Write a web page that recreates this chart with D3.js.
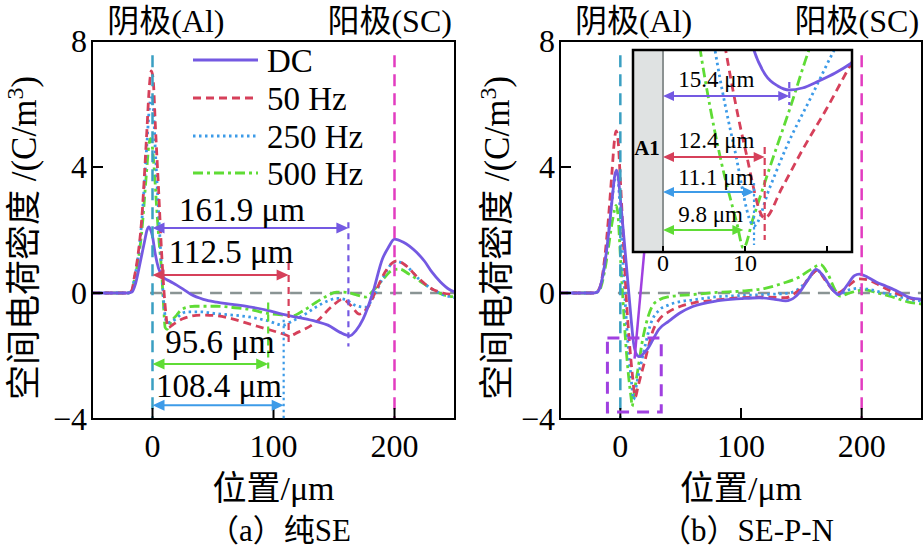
<!DOCTYPE html>
<html><head><meta charset="utf-8">
<script src="https://cdn.jsdelivr.net/npm/d3@7"></script>
<style>
body{margin:0;background:#fff}
svg{display:block}
text{font-family:'Liberation Serif','Noto Sans CJK SC',serif;fill:#000}
</style>
</head><body>
<svg id="c" width="924" height="550"></svg>
<script>
// ---------- data ----------
const xTicks = [0, 100, 200];
const yTicks = [-4, 0, 4, 8];
const yTickLabels = ["\u22124", "0", "4", "8"];
const seriesNames = ["DC", "50 Hz", "250 Hz", "500 Hz"];

// (a) pure SE
const a_DC = [[-50,0],[-20,0],[-17,0.03],[-14,0.3],[-10,1.0],[-6.5,1.65],[-4.5,2.0],[-3,2.1],[-1.5,2.0],[0,1.8],[2,1.3],[5,0.78],[9,0.5],[14,0.38],[20,0.25],[25,0.13],[32,-0.05],[42,-0.2],[53,-0.29],[66,-0.36],[80,-0.44],[95,-0.55],[108,-0.68],[121,-0.78],[135,-0.9],[145,-1.02],[155,-1.25],[163,-1.36],[168,-1.2],[174,-0.83],[182,0],[190,1.08],[195,1.45],[200,1.71],[207,1.62],[218,1.3],[225,1.0],[231,0.66],[238,0.35],[245,0.12],[250,0.03]];
const a_50 = [[-50,0],[-20,0],[-17,0.1],[-15,0.5],[-12,1.2],[-9,2.3],[-5,4.9],[-2.5,6.6],[-1,7.05],[0.5,6.8],[2.5,5.2],[5,3.3],[7.5,1.3],[10,-0.2],[13,-1.1],[17,-1.0],[25,-0.82],[40,-0.7],[53,-0.72],[66,-0.82],[80,-0.98],[95,-1.15],[108,-1.3],[113,-1.36],[120,-1.25],[135,-0.93],[149,-0.4],[157,-0.2],[164,-0.4],[171,-0.67],[178,-0.45],[185,0.1],[192,0.65],[198,0.95],[202,1.02],[210,0.85],[218,0.54],[230,0.15],[240,0.0],[250,-0.05]];
const a_250 = [[-50,0],[-20,0],[-17,0.08],[-15,0.45],[-12,1.1],[-9,2.2],[-5,4.5],[-2.5,5.9],[-1.2,6.2],[0.5,5.9],[2.5,4.4],[5,2.6],[7.5,0.8],[10,-0.6],[12,-0.95],[16,-0.9],[28,-0.6],[40,-0.6],[53,-0.66],[66,-0.7],[80,-0.76],[95,-0.88],[108,-1.02],[115,-0.9],[125,-0.7],[135,-0.45],[145,-0.25],[152,-0.17],[160,-0.22],[168,-0.4],[176,-0.45],[183,-0.1],[190,0.45],[197,0.9],[202,1.0],[210,0.85],[220,0.45],[230,0.15],[240,-0.05],[250,-0.15]];
const a_500 = [[-50,0],[-20,0],[-17,0.05],[-15,0.4],[-12,1.0],[-9,1.9],[-5,3.8],[-3,4.7],[-1.8,4.9],[0,4.6],[2,3.6],[3.3,2.8],[5.5,1.6],[7.5,0.7],[9,-0.3],[10.5,-1.1],[12,-1.15],[14,-1.0],[20,-0.7],[25,-0.5],[35,-0.42],[53,-0.42],[66,-0.46],[80,-0.52],[97,-0.66],[108,-0.7],[116,-0.72],[125,-0.55],[135,-0.3],[145,-0.08],[152,0.03],[160,0.02],[168,-0.05],[176,-0.13],[183,0.1],[192,0.5],[198,0.72],[204,0.76],[212,0.6],[222,0.35],[232,0.1],[242,-0.08],[250,-0.12]];

// (b) SE-P-N
const b_DC = [[-50,0],[-22,0],[-19,0.03],[-16,0.3],[-13,0.9],[-10,1.8],[-7,2.9],[-4.5,3.75],[-3,3.9],[-1.5,3.6],[0,3.0],[3,1.75],[6,0.45],[9,-0.85],[11,-1.6],[12.5,-1.87],[14,-1.98],[15.4,-2.02],[17,-2.0],[19,-1.93],[21,-1.85],[23,-1.75],[26,-1.55],[32,-1.15],[40,-0.9],[50,-0.62],[60,-0.43],[80,-0.25],[100,-0.18],[115,-0.15],[128,-0.2],[137,-0.25],[145,-0.12],[150,0.1],[156,0.45],[162,0.75],[168,0.55],[175,0.15],[181,-0.05],[188,0.25],[194,0.55],[198,0.6],[205,0.5],[212,0.35],[220,0.22],[230,0.05],[240,-0.15],[250,-0.2]];
const b_50 = [[-50,0],[-22,0],[-19,0.05],[-16,0.3],[-13,1.1],[-10,2.3],[-7,3.8],[-5,4.8],[-3.5,5.15],[-2,4.9],[0,3.6],[2.5,1.7],[5,-0.2],[7.6,-1.6],[10,-2.6],[12.4,-3.3],[14.5,-3.0],[17,-2.62],[20,-2.2],[23,-1.75],[27,-1.2],[32,-0.85],[40,-0.6],[50,-0.42],[60,-0.32],[80,-0.22],[100,-0.15],[120,-0.13],[137,-0.15],[145,0.0],[152,0.25],[158,0.55],[163,0.72],[170,0.4],[176,0.1],[180,0.0],[188,0.2],[198,0.45],[205,0.42],[212,0.3],[222,0.1],[235,-0.1],[245,-0.2],[250,-0.2]];
const b_250 = [[-50,0],[-22,0],[-19,0.04],[-16,0.25],[-13,0.9],[-10,1.8],[-7,2.9],[-5,3.55],[-3.2,3.87],[-1.8,3.6],[0,2.5],[3,0.4],[6.3,-1.6],[8.7,-2.6],[11.1,-3.38],[13,-3.0],[15,-2.6],[18,-2.1],[21,-1.6],[25,-1.0],[32,-0.55],[40,-0.38],[50,-0.27],[60,-0.22],[80,-0.12],[100,-0.08],[120,-0.05],[140,0.0],[150,0.2],[157,0.5],[163,0.72],[170,0.42],[176,0.1],[181,-0.05],[188,0.08],[198,0.15],[208,0.1],[218,0.0],[230,-0.1],[240,-0.22],[250,-0.25]];
const b_500 = [[-50,0],[-22,0],[-19,0.03],[-16,0.2],[-13,0.7],[-10,1.4],[-7,2.2],[-5,2.6],[-3.5,2.78],[-2,2.5],[0,1.2],[2,-0.1],[4.5,-1.6],[7,-2.7],[9,-3.35],[9.8,-3.6],[11,-3.3],[13,-2.8],[15.5,-2.2],[17.9,-1.6],[20,-1.2],[23,-0.75],[26,-0.45],[32,-0.22],[40,-0.12],[60,-0.05],[80,0.02],[100,0.06],[120,0.15],[134,0.3],[148,0.5],[158,0.75],[166,0.9],[172,0.6],[178,0.1],[182,-0.1],[190,0.0],[203,0.1],[213,0.0],[225,-0.12],[238,-0.28],[250,-0.35]];

// annotation values
const aSpans = [161.9, 112.5, 95.6, 108.4];          // DC, 50 Hz, 500 Hz, 250 Hz
const aSpanLabels = ["161.9 \u03bcm", "112.5 \u03bcm", "95.6 \u03bcm", "108.4 \u03bcm"];
const bSpans = [15.4, 12.4, 11.1, 9.8];               // DC, 50 Hz, 250 Hz, 500 Hz
const bSpanLabels = ["15.4 \u03bcm", "12.4 \u03bcm", "11.1 \u03bcm", "9.8 \u03bcm"];
const insetTicks = [0, 10, 20];
const insetTickLabels = ["0", "10", ""];
const cathodePos = 0, anodePos = 200;

// ---------- styles ----------
const colors = ["#7459e2", "#d6405a", "#3d9be8", "#5fdc35"];
const dashes = [null, "8,5", "2.5,3.5", "10,4,3,4"];
const widths = [2.8, 2.8, 2.8, 2.8];
const FONT = 32;

const svg = d3.select("#c");
const defs = svg.append("defs");

const y = d3.scaleLinear().domain([-4, 8]).range([419, 41]);
const xA = d3.scaleLinear().domain([-50, 250]).range([92, 455]);
const xB = d3.scaleLinear().domain([-50, 250]).range([560, 922]);

function clip(id, x, yy, w, h) {
  defs.append("clipPath").attr("id", id).append("rect").attr("x", x).attr("y", yy).attr("width", w).attr("height", h);
}
clip("clipA", 92, 41, 363, 378);
clip("clipB", 560, 41, 362, 378);

const lineGen = (xs, ys) => d3.line().x(d => xs(d[0])).y(d => ys(d[1])).curve(d3.curveMonotoneX);

function vline(g, xs, ys, xv, y1, y2, color, dash, w) {
  g.append("line").attr("x1", xs(xv)).attr("x2", xs(xv)).attr("y1", ys(y1)).attr("y2", ys(y2))
    .attr("stroke", color).attr("stroke-width", w).attr("stroke-dasharray", dash);
}

function arrow(g, x1, x2, yy, color, hl, hw, sw) {
  g.append("line").attr("x1", x1 + hl * 0.8).attr("x2", x2 - hl * 0.8).attr("y1", yy).attr("y2", yy)
    .attr("stroke", color).attr("stroke-width", sw);
  g.append("path").attr("d", `M${x1},${yy}L${x1 + hl},${yy - hw}L${x1 + hl},${yy + hw}Z`).attr("fill", color);
  g.append("path").attr("d", `M${x2},${yy}L${x2 - hl},${yy - hw}L${x2 - hl},${yy + hw}Z`).attr("fill", color);
}

function drawPanel(xs, series, clipId, sub, labelX) {
  const g = svg.append("g");
  const [x0, x1] = xs.range();
  const [yb, yt] = y.range();
  // zero line
  g.append("line").attr("x1", xs(-2)).attr("x2", xs(250)).attr("y1", y(0)).attr("y2", y(0))
    .attr("stroke", "#8a9494").attr("stroke-width", 2.5).attr("stroke-dasharray", "12,8");
  // curves
  const cg = g.append("g").attr("clip-path", `url(#${clipId})`);
  [3, 2, 1, 0].forEach(i => {
    cg.append("path").attr("d", lineGen(xs, y)(series[i])).attr("fill", "none")
      .attr("stroke", colors[i]).attr("stroke-width", widths[i])
      .attr("stroke-dasharray", dashes[i]).attr("stroke-linejoin", "round");
  });
  // electrode lines
  vline(g, xs, y, cathodePos, 7.55, -4, "#3a9fc2", "12,7", 2.5);
  vline(g, xs, y, anodePos, 7.55, -4, "#e23cc0", "12,7", 2.5);
  // frame
  g.append("rect").attr("x", x0).attr("y", yt).attr("width", x1 - x0).attr("height", yb - yt)
    .attr("fill", "none").attr("stroke", "#000").attr("stroke-width", 2);
  // ticks
  yTicks.forEach((t, i) => {
    g.append("line").attr("x1", x0).attr("x2", x0 + 11).attr("y1", y(t)).attr("y2", y(t)).attr("stroke", "#000").attr("stroke-width", 2);
    g.append("text").attr("x", x0 - 5).attr("y", y(t)).attr("dy", "0.35em").attr("text-anchor", "end")
      .attr("font-size", FONT).text(yTickLabels[i]);
  });
  xTicks.forEach(t => {
    g.append("line").attr("x1", xs(t)).attr("x2", xs(t)).attr("y1", yb).attr("y2", yb - 11).attr("stroke", "#000").attr("stroke-width", 2);
    g.append("text").attr("x", xs(t)).attr("y", 457).attr("text-anchor", "middle").attr("font-size", FONT).text(t);
  });
  // electrode titles
  g.append("text").attr("x", xs(11)).attr("y", 32).attr("text-anchor", "middle").attr("font-size", 32).text("阴极(Al)");
  g.append("text").attr("x", xs(196)).attr("y", 32).attr("text-anchor", "middle").attr("font-size", 32).text("阳极(SC)");
  // axis labels
  g.append("text").attr("x", xs(100)).attr("y", 500).attr("text-anchor", "middle").attr("font-size", 34).text("位置/\u03bcm");
  g.append("text").attr("x", xs(105)).attr("y", 541).attr("text-anchor", "middle").attr("font-size", 31).text(sub);
  const yl = g.append("text").attr("transform", `translate(${labelX},238) rotate(-90)`)
    .attr("text-anchor", "middle").attr("dy", "0.35em").attr("font-size", 35);
  yl.append("tspan").text("空间电荷密度 /(C/m");
  yl.append("tspan").attr("dy", -13).attr("font-size", 24).text("3");
  yl.append("tspan").attr("dy", 13).text(")");
  return g;
}

// ---------- panel (a) ----------
const gA = drawPanel(xA, [a_DC, a_50, a_250, a_500], "clipA", "（a）纯SE", 24);

// legend
const legY = [60, 98, 136, 173];
seriesNames.forEach((n, i) => {
  gA.append("line").attr("x1", 193).attr("x2", 258).attr("y1", legY[i]).attr("y2", legY[i])
    .attr("stroke", colors[i]).attr("stroke-width", 3).attr("stroke-dasharray", dashes[i]);
  gA.append("text").attr("x", 267).attr("y", legY[i]).attr("dy", "0.35em").attr("font-size", 33).text(n);
});

// span annotations (a)
const aCols = [colors[0], colors[1], colors[3], colors[2]];
const aArrowY = [2.06, 0.57, -2.25, -3.56];
const aVline = [[2.25, -1.7], [0.95, -1.65], [-0.3, -2.4], [-0.85, -4]];
const aVdash = ["6,5", "7,5", "7,5", "2.5,3.5"];
const aTextPos = [[74, 2.3], [65, 0.95], [55.8, -1.9], [55, -3.3]];
aSpans.forEach((s, i) => {
  vline(gA, xA, y, s, aVline[i][0], aVline[i][1], aCols[i], aVdash[i], 2.2);
  arrow(gA, xA(0), xA(s), y(aArrowY[i]), aCols[i], 12, 5.5, 2);
  gA.append("text").attr("x", xA(aTextPos[i][0])).attr("y", y(aTextPos[i][1])).attr("text-anchor", "middle")
    .attr("font-size", 33).text(aSpanLabels[i]);
});

// ---------- panel (b) ----------
const gB = drawPanel(xB, [b_DC, b_50, b_250, b_500], "clipB", "（b）SE-P-N", 497);

// zoom box and connector
gB.append("rect").attr("x", xB(-10.7)).attr("y", y(-1.43)).attr("width", xB(33.9) - xB(-10.7)).attr("height", y(-3.78) - y(-1.43))
  .attr("fill", "none").attr("stroke", "#a040e0").attr("stroke-width", 3).attr("stroke-dasharray", "12,8");
gB.append("line").attr("x1", xB(19.8)).attr("y1", y(1.3)).attr("x2", xB(11.8)).attr("y2", y(-2.08))
  .attr("stroke", "#a040e0").attr("stroke-width", 2.5);

// inset
const ix = d3.scaleLinear().domain([-3.66, 23.05]).range([633, 852]);
const iy = d3.scaleLinear().domain([-3.64, -1.62]).range([252, 50]);
clip("clipI", 633, 50, 219, 202);
const gI = svg.append("g");
gI.append("rect").attr("x", 633).attr("y", 50).attr("width", 219).attr("height", 202).attr("fill", "#fff");
gI.append("rect").attr("x", ix(-3.66)).attr("y", 50).attr("width", ix(0) - ix(-3.66)).attr("height", 202).attr("fill", "#dfe2e2");
const icg = gI.append("g").attr("clip-path", "url(#clipI)");
const bSeries = [b_DC, b_50, b_250, b_500];
[3, 2, 1, 0].forEach(i => {
  icg.append("path").attr("d", lineGen(ix, iy)(bSeries[i])).attr("fill", "none")
    .attr("stroke", colors[i]).attr("stroke-width", widths[i])
    .attr("stroke-dasharray", dashes[i]).attr("stroke-linejoin", "round");
});
gI.append("line").attr("x1", ix(0)).attr("x2", ix(0)).attr("y1", 50).attr("y2", 252).attr("stroke", "#8c9292").attr("stroke-width", 2);
gI.append("text").attr("x", ix(-1.95)).attr("y", iy(-2.67)).attr("text-anchor", "middle").attr("font-size", 21).attr("font-weight", "bold").text("A1");

const bArrowY = [-2.08, -2.69, -3.04, -3.42];
const bVline = [[-1.94, -2.17], [-2.59, -3.52], [-2.95, -3.57], null];
const bVdash = ["6,4", "7,4", "2.5,3", null];
const bTextY = [-1.99, -2.6, -2.97, -3.34];
bSpans.forEach((s, i) => {
  if (bVline[i]) vline(gI, ix, iy, s, bVline[i][0], bVline[i][1], colors[i], bVdash[i], 2.2);
  arrow(gI, ix(0), ix(s), iy(bArrowY[i]), colors[i], 11, 5, 2);
  gI.append("text").attr("x", ix(1.85)).attr("y", iy(bTextY[i])).attr("font-size", 23).text(bSpanLabels[i]);
});
insetTicks.forEach((t, i) => {
  gI.append("line").attr("x1", ix(t)).attr("x2", ix(t)).attr("y1", 252).attr("y2", 246).attr("stroke", "#000").attr("stroke-width", 2);
  gI.append("text").attr("x", ix(t)).attr("y", 271).attr("text-anchor", "middle").attr("font-size", 24).text(insetTickLabels[i]);
});
gI.append("rect").attr("x", 633).attr("y", 50).attr("width", 219).attr("height", 202)
  .attr("fill", "none").attr("stroke", "#000").attr("stroke-width", 2.5);
</script>
</body></html>
